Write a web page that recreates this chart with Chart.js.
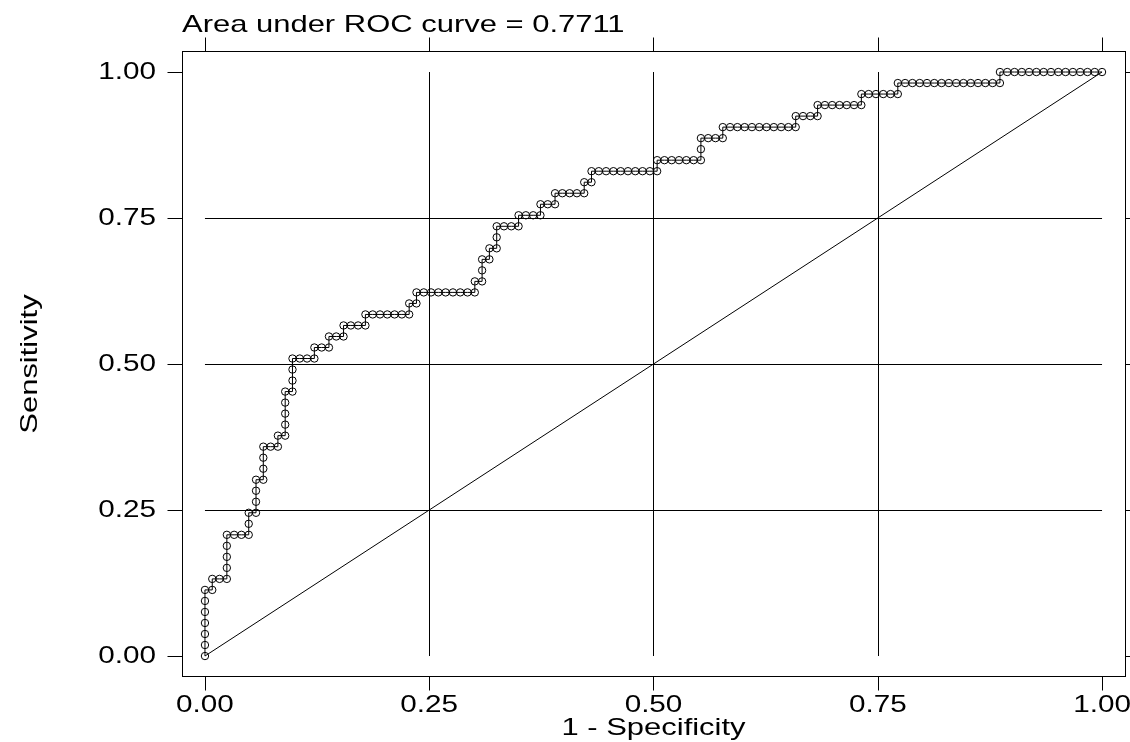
<!DOCTYPE html>
<html>
<head>
<meta charset="utf-8">
<script src="https://cdn.jsdelivr.net/npm/chart.js@4.4.1/dist/chart.umd.min.js"></script>
<style>
  body { margin: 0; background: #fff; }
  canvas { display: block; }
</style>
</head>
<body>
<canvas id="rocChart" width="1130" height="742"></canvas>
<script>
// counts of negatives / positives classified positive at each cutoff
var nNegative = 123;
var nPositive = 53;

var fpCount = [
  0, 0, 0, 0, 0, 0, 0,
  1, 1, 2, 3,
  3, 3, 3, 3,
  4, 5, 6,
  6, 6, 7,
  7, 7, 7, 8,
  8, 8, 8, 9, 10,
  10, 11,
  11, 11, 11, 11, 12,
  12, 12, 12, 13, 14, 15,
  15, 16, 17,
  17, 18, 19,
  19, 20, 21, 22,
  22, 23, 24, 25, 26, 27, 28,
  28, 29,
  29, 30, 31, 32, 33, 34, 35, 36, 37,
  37, 38,
  38, 38, 39,
  39, 40,
  40, 40, 41, 42, 43,
  43, 44, 45, 46,
  46, 47, 48,
  48, 49, 50, 51, 52,
  52, 53,
  53, 54, 55, 56, 57, 58, 59, 60, 61, 62,
  62, 63, 64, 65, 66, 67, 68,
  68, 68, 69, 70, 71,
  71, 72, 73, 74, 75, 76, 77, 78, 79, 80, 81,
  81, 82, 83, 84,
  84, 85, 86, 87, 88, 89, 90,
  90, 91, 92, 93, 94, 95,
  95, 96, 97, 98, 99, 100, 101, 102, 103, 104, 105, 106, 107, 108, 109,
  109, 110, 111, 112, 113, 114, 115, 116, 117, 118, 119, 120, 121, 122, 123
];

var tpCount = [
  0, 1, 2, 3, 4, 5, 6,
  6, 7, 7, 7,
  8, 9, 10, 11,
  11, 11, 11,
  12, 13, 13,
  14, 15, 16, 16,
  17, 18, 19, 19, 19,
  20, 20,
  21, 22, 23, 24, 24,
  25, 26, 27, 27, 27, 27,
  28, 28, 28,
  29, 29, 29,
  30, 30, 30, 30,
  31, 31, 31, 31, 31, 31, 31,
  32, 32,
  33, 33, 33, 33, 33, 33, 33, 33, 33,
  34, 34,
  35, 36, 36,
  37, 37,
  38, 39, 39, 39, 39,
  40, 40, 40, 40,
  41, 41, 41,
  42, 42, 42, 42, 42,
  43, 43,
  44, 44, 44, 44, 44, 44, 44, 44, 44, 44,
  45, 45, 45, 45, 45, 45, 45,
  46, 47, 47, 47, 47,
  48, 48, 48, 48, 48, 48, 48, 48, 48, 48, 48,
  49, 49, 49, 49,
  50, 50, 50, 50, 50, 50, 50,
  51, 51, 51, 51, 51, 51,
  52, 52, 52, 52, 52, 52, 52, 52, 52, 52, 52, 52, 52, 52, 52,
  53, 53, 53, 53, 53, 53, 53, 53, 53, 53, 53, 53, 53, 53, 53
];

var refX = [0, 1];
var refY = [0, 1];

var tickValues = [0, 0.25, 0.5, 0.75, 1];
var tickLabels = ['0.00', '0.25', '0.50', '0.75', '1.00'];
var gridValues = [0.25, 0.5, 0.75];

var titleText = 'Area under ROC curve = 0.7711';
var xTitle = '1 - Specificity';
var yTitle = 'Sensitivity';

var rocPoints = fpCount.map(function (fp, i) {
  return { x: fp / nNegative, y: tpCount[i] / nPositive };
});
var refPoints = refX.map(function (x, i) { return { x: x, y: refY[i] }; });

var STRETCH = 1.29;

function wideText(ctx, text, x, y, size, align, baseline, rotate) {
  ctx.save();
  ctx.translate(x, y);
  if (rotate) ctx.rotate(-Math.PI / 2);
  ctx.scale(STRETCH, 1);
  ctx.font = size + 'px "Liberation Sans", Arial, sans-serif';
  ctx.fillStyle = '#000';
  ctx.textAlign = align;
  ctx.textBaseline = baseline;
  ctx.fillText(text, 0, 0);
  ctx.restore();
}

var stataFrame = {
  id: 'stataFrame',
  beforeDatasetsDraw: function (chart) {
    var ctx = chart.ctx, xs = chart.scales.x, ys = chart.scales.y;
    ctx.save();
    ctx.strokeStyle = '#000';
    ctx.lineWidth = 1;
    gridValues.forEach(function (v) {
      var px = Math.round(xs.getPixelForValue(v)) + 0.5;
      var py = Math.round(ys.getPixelForValue(v)) + 0.5;
      ctx.beginPath();
      ctx.moveTo(px, ys.getPixelForValue(0));
      ctx.lineTo(px, ys.getPixelForValue(1));
      ctx.moveTo(xs.getPixelForValue(0), py);
      ctx.lineTo(xs.getPixelForValue(1), py);
      ctx.stroke();
    });
    ctx.restore();
  },
  afterDraw: function (chart) {
    var ctx = chart.ctx, a = chart.chartArea, xs = chart.scales.x, ys = chart.scales.y;
    var L = Math.round(a.left) + 0.5, R = Math.round(a.right) + 0.5;
    var T = Math.round(a.top) + 0.5, B = Math.round(a.bottom) + 0.5;
    ctx.save();
    ctx.strokeStyle = '#000';
    ctx.lineWidth = 1;
    ctx.strokeRect(L, T, R - L, B - T);
    ctx.beginPath();
    tickValues.forEach(function (v) {
      var px = Math.round(xs.getPixelForValue(v)) + 0.5;
      var py = Math.round(ys.getPixelForValue(v)) + 0.5;
      ctx.moveTo(px, B); ctx.lineTo(px, B + 14);
      ctx.moveTo(px, T); ctx.lineTo(px, T - 14);
      ctx.moveTo(L, py); ctx.lineTo(L - 15, py);
      ctx.moveTo(R, py); ctx.lineTo(R + 15, py);
    });
    ctx.stroke();
    ctx.restore();

    tickValues.forEach(function (v, i) {
      wideText(ctx, tickLabels[i], xs.getPixelForValue(v), 712, 23, 'center', 'alphabetic');
      wideText(ctx, tickLabels[i], 156, ys.getPixelForValue(v) + 1, 23, 'right', 'middle');
    });
    wideText(ctx, titleText, a.left, 32, 24, 'left', 'alphabetic');
    wideText(ctx, xTitle, xs.getPixelForValue(0.5), 735, 24, 'center', 'alphabetic');
    wideText(ctx, yTitle, 30, ys.getPixelForValue(0.5), 24, 'center', 'middle', true);
  }
};

var ctx = document.getElementById('rocChart').getContext('2d');
var rocChart = new Chart(ctx, {
  type: 'scatter',
  data: {
    datasets: [{
      label: 'Reference',
      data: refPoints,
      showLine: true,
      borderColor: '#000',
      borderWidth: 1,
      pointRadius: 0
    }, {
      label: 'ROC',
      data: rocPoints,
      showLine: true,
      borderColor: '#000',
      borderWidth: 1,
      pointRadius: 3.7,
      pointBorderWidth: 1,
      pointBorderColor: '#000',
      pointBackgroundColor: 'rgba(0,0,0,0)'
    }]
  },
  options: {
    responsive: false,
    animation: false,
    layout: { padding: { left: 182, right: 5, top: 51, bottom: 66 } },
    scales: {
      x: { type: 'linear', min: -0.0256, max: 1.0256, display: false },
      y: { type: 'linear', min: -0.0342, max: 1.036, display: false }
    },
    plugins: {
      legend: { display: false },
      tooltip: { enabled: false }
    }
  },
  plugins: [stataFrame]
});
</script>
</body>
</html>
